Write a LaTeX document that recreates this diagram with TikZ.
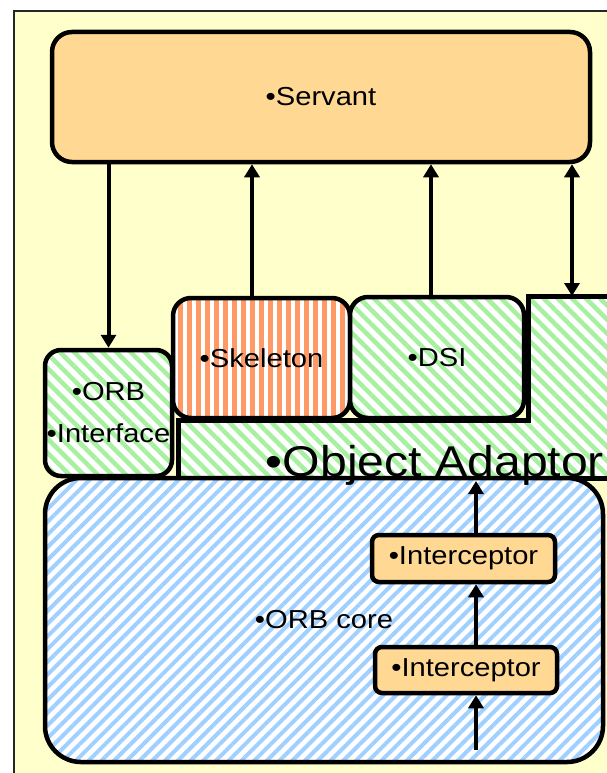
\documentclass[tikz,border=0pt]{standalone}
\usepackage{fontspec}
\setmainfont{Liberation Sans}[FakeStretch=1.12]
\usetikzlibrary{arrows.meta,patterns.meta}

\definecolor{paper}{HTML}{FFFFCC}
\definecolor{peach}{HTML}{FFD994}
\definecolor{mint}{HTML}{A6F0A0}
\definecolor{sky}{HTML}{A0D0FF}
\definecolor{coral}{HTML}{FF9966}

\begin{document}
\begin{tikzpicture}[x=1pt,y=-1pt,
    box/.style={draw, line width=4.5pt, inner sep=0pt, align=center,
      font=\fontsize{26}{42}\selectfont},
    peachbox/.style={box, fill=peach},
    greenhatch/.style={box, preaction={fill=white},
      pattern={Lines[angle=-45,distance=10pt,line width=4.5pt]}, pattern color=mint},
    bluehatch/.style={box, preaction={fill=white},
      pattern={Lines[angle=45,distance=9pt,line width=4pt]}, pattern color=sky},
    stripebox/.style={box, preaction={fill=white},
      pattern={Lines[angle=90,distance=9pt,line width=5pt]}, pattern color=coral},
    link/.style={line width=4pt, -{Triangle[length=13pt,width=15pt]}},
    twoway/.style={line width=4pt, {Triangle[length=13pt,width=15pt]}-{Triangle[length=13pt,width=15pt]}}]

    \useasboundingbox (0,0) rectangle (607,773);
    \clip (0,0) rectangle (607,773);

    % slide frame
    \draw [fill=paper, draw=black!85, line width=1.5pt] (14,11) rectangle (660,800);

    % Object Adaptor (stepped outline)
    \draw [line width=5pt, preaction={fill=white},
      pattern={Lines[angle=-45,distance=10pt,line width=4.5pt]}, pattern color=mint]
      (178,478) -- (178,420) -- (528,420) -- (528,296) -- (660,296) -- (660,478) -- cycle;
    \coordinate (oatop) at (572,296);
    \coordinate (oabase) at (476,481);

    % ORB core
    \node [bluehatch, rounded corners=36pt, minimum width=558pt, minimum height=284pt] (core) at (324,620) {•ORB core};

    % upper layer
    \node [stripebox, rounded corners=18pt, minimum width=177pt, minimum height=120pt] (skel) at (261.5,358) {•Skeleton};
    \node [greenhatch, rounded corners=18pt, minimum width=174pt, minimum height=121pt] (dsi) at (437,357.5) {•DSI};
    \node [greenhatch, rounded corners=16pt, minimum width=127pt, minimum height=126pt] (orbif) at (108.5,413) {•ORB\\•Interface};

    \node [peachbox, rounded corners=20pt, minimum width=538pt, minimum height=130pt] (servant) at (321,97) {•Servant};

    % interceptor chain
    \node [peachbox, rounded corners=7pt, minimum width=183pt, minimum height=47pt] (ic1) at (463.5,558.5) {•Interceptor};
    \node [peachbox, rounded corners=7pt, minimum width=182pt, minimum height=46pt] (ic2) at (466,670) {•Interceptor};
    \coordinate (feed) at (476,750);

    \draw [link] (feed) -- (feed |- ic2.south);
    \draw [link] (feed |- ic2.north) -- (feed |- ic1.south);
    \draw [link] (feed |- ic1.north) -- (oabase);

    % calls to and from the servant
    \draw [link] (servant.south -| orbif.north) -- (orbif.north);
    \draw [link] ([xshift=-9.5pt]skel.north) -- ([xshift=-9.5pt]skel.north |- servant.south);
    \draw [link] ([xshift=-6pt]dsi.north) -- ([xshift=-6pt]dsi.north |- servant.south);
    \draw [twoway] (oatop) -- (oatop |- servant.south);

    \node [font=\fontsize{43}{43}\selectfont, anchor=base] (oalabel) at (435,476) {•Object Adaptor};

\end{tikzpicture}
\end{document}
